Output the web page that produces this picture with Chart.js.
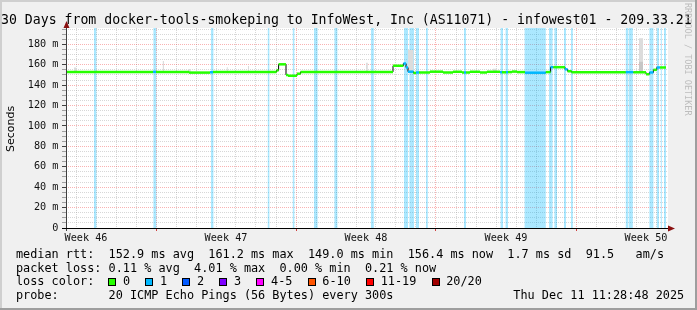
<!DOCTYPE html>
<html>
<head>
<meta charset="utf-8">
<script src="https://cdn.jsdelivr.net/npm/chart.js"></script>
<style>
html, body { margin: 0; padding: 0; background: #f0f0f0; }
</style>
</head>
<body>
<canvas id="canvas" width="697" height="310"></canvas>
<script>
// Заголовок и подписи
const titleText = '30 Days from docker-tools-smokeping to InfoWest, Inc (AS11071) - infowest01 - 209.33.21';
const unitText = 'Seconds';
const watermark = 'RRDTOOL / TOBI OETIKER';
const weekDays = [1, 8, 15, 22, 29];
const weekLabels = ['Week 46', 'Week 47', 'Week 48', 'Week 49', 'Week 50'];
const xMax = 30.1;
const yMax = 196;

// Медиана RTT (дни от начала, мс, число потерь на отрезке)
const medianDay = [0, 4.35, 4.50, 6.15, 7.20, 7.35, 10.53, 10.63, 11.00, 11.10, 11.55, 11.73,
    16.35, 16.87, 17.00, 17.10, 17.37, 17.50, 17.65, 18.20, 18.85, 19.35, 19.80, 19.90, 20.00,
    20.20, 20.70, 21.05, 21.70, 21.80, 22.00, 22.10, 22.30, 22.55, 22.95, 23.99,
    24.23, 24.37, 24.95, 25.08, 25.28, 27.99, 28.37, 29.00, 29.17, 29.37, 29.54, 29.70, 30.00];
const medianMs = [153.0, 153.0, 153.0, 152.3, 152.6, 153.0, 154.5, 160.4, 150.0, 149.2, 151.2, 153.0,
    159.0, 161.2, 157.3, 153.2, 152.0, 152.4, 152.4, 153.2, 152.4, 153.1, 152.4, 152.4, 152.4,
    153.1, 152.4, 153.1, 152.6, 152.6, 152.6, 152.8, 153.3, 152.8, 152.2, 152.8,
    157.6, 157.6, 155.5, 153.6, 152.7, 152.7, 152.6, 150.7, 152.4, 155.0, 157.3, 157.3, 157.3];
const medianLoss = [0, 1, 0, 0, 1, 0, 0, 0, 0, 0, 0, 0,
    0, 1, 1, 1, 0, 1, 0, 0, 0, 0, 0, 1, 0,
    0, 0, 0, 1, 0, 1, 0, 0, 0, 1, 0,
    1, 0, 1, 0, 0, 1, 0, 0, 1, 0, 1, 0, 0];

// Полосы потерь (начало и конец, дни)
const lossStart = [1.40, 4.37, 7.25, 10.09, 11.34, 12.40, 13.42, 15.25, 16.90, 17.17, 17.50, 18.00, 19.90,
    21.73, 21.98, 22.93, 24.15, 24.42, 24.90, 25.25, 27.99, 28.15, 29.17, 29.54, 29.74, 29.90];
const lossEnd = [1.52, 4.52, 7.37, 10.17, 11.42, 12.58, 13.57, 15.39, 17.10, 17.40, 17.65, 18.09, 20.00,
    21.85, 22.10, 23.99, 24.33, 24.55, 25.00, 25.34, 28.12, 28.34, 29.37, 29.65, 29.79, 30.00];

// "Дым" - разброс пингов
const smokeStart = [0.40, 4.84, 6.10, 8.04, 9.10, 15.00, 17.10, 21.35, 28.65];
const smokeEnd = [0.50, 4.90, 6.24, 8.09, 9.15, 15.09, 17.37, 21.55, 28.85];
const smokeTop = [157.4, 163.6, 155.8, 157.5, 158.8, 162.0, 174.4, 156.0, 185.9];
const coreStart = [28.65];
const coreEnd = [28.85];
const coreTop = [163.0];

// Легенда
const lossLabels = ['0', '1', '2', '3', '4-5', '6-10', '11-19', '20/20'];
const lossColors = ['#26ff00', '#00b8ff', '#0059ff', '#7e00ff', '#ff00ff', '#ff5500', '#ff0000', '#a10000'];
const statRtt = 'median rtt:  152.9 ms avg  161.2 ms max  149.0 ms min  156.4 ms now  1.7 ms sd  91.5   am/s';
const statLoss = 'packet loss: 0.11 % avg  4.01 % max  0.00 % min  0.21 % now';
const probeText = 'probe:       20 ICMP Echo Pings (56 Bytes) every 300s';
const dateText = 'Thu Dec 11 11:28:48 2025';

const MONO = '"DejaVu Sans Mono", monospace';
const minorGrid = 'rgba(140,140,140,0.35)';
const majorGrid = 'rgba(235,0,0,0.3)';

// Ступенчатые точки для полос потерь
const lossPts = [{x: 0, y: 0}];
lossStart.forEach((s, i) => {
    lossPts.push({x: s, y: yMax});
    lossPts.push({x: lossEnd[i], y: 0});
});
lossPts.push({x: xMax, y: 0});

function spikes(start, end, top) {
    const pts = [{x: 0, y: 152}];
    start.forEach((s, i) => {
        pts.push({x: s, y: top[i]});
        pts.push({x: end[i], y: 152});
    });
    pts.push({x: xMax, y: 152});
    return pts;
}

const stepPts = medianDay.map((d, i) => ({x: d, y: medianMs[i]}));

// Цветные горизонтальные отрезки медианы
const colPts = [];
const colLoss = [];
for (let i = 0; i < medianDay.length - 1; i++) {
    colPts.push({x: medianDay[i], y: medianMs[i]}, {x: medianDay[i + 1], y: medianMs[i]}, {x: medianDay[i + 1], y: null});
    colLoss.push(medianLoss[i], medianLoss[i], medianLoss[i]);
}

const xTicks = [];
for (let k = 1; k < 60; k++) xTicks.push({value: k * 0.5});
const yTicks = [];
for (let v = 0; v < yMax; v += 5) yTicks.push({value: v});

const decor = {
    id: 'decor',
    beforeDraw(chart) {
        const c = chart.ctx, a = chart.chartArea;
        c.save();
        c.fillStyle = '#f0f0f0';
        c.fillRect(0, 0, 697, 310);
        c.fillStyle = '#cfcfcf';
        c.fillRect(0, 0, 697, 2);
        c.fillRect(0, 0, 2, 310);
        c.fillStyle = '#9e9e9e';
        c.fillRect(0, 308, 697, 2);
        c.fillRect(695, 0, 2, 310);
        c.fillStyle = '#ffffff';
        c.fillRect(a.left, a.top, a.right - a.left, a.bottom - a.top);

        c.fillStyle = '#000';
        c.font = '13.2px ' + MONO;
        c.textAlign = 'left';
        c.textBaseline = 'alphabetic';
        c.fillText(titleText, 1, 24);

        c.save();
        c.translate(11, 129);
        c.rotate(-Math.PI / 2);
        c.textAlign = 'center';
        c.textBaseline = 'middle';
        c.font = '11px "DejaVu Sans", sans-serif';
        c.fillText(unitText, 0, 0);
        c.restore();

        c.save();
        c.translate(687, 3);
        c.rotate(Math.PI / 2);
        c.textAlign = 'left';
        c.textBaseline = 'middle';
        c.font = '8.5px ' + MONO;
        c.fillStyle = '#bdbdbd';
        c.fillText(watermark, 0, 0);
        c.restore();
        c.restore();
    },
    afterDatasetsDraw(chart) {
        const c = chart.ctx, a = chart.chartArea;
        c.save();
        // оси
        c.strokeStyle = '#404040';
        c.lineWidth = 1;
        c.beginPath();
        c.moveTo(a.left + 0.5, a.bottom + 3);
        c.lineTo(a.left + 0.5, a.top - 1);
        c.stroke();
        c.strokeStyle = '#000';
        c.beginPath();
        c.moveTo(a.left - 4, a.bottom + 0.5);
        c.lineTo(a.right, a.bottom + 0.5);
        c.stroke();
        // стрелки
        c.fillStyle = '#8a1010';
        c.beginPath();
        c.moveTo(a.left + 0.5, a.top - 7);
        c.lineTo(a.left - 2.5, a.top);
        c.lineTo(a.left + 3.5, a.top);
        c.closePath();
        c.fill();
        c.beginPath();
        c.moveTo(a.right + 7, a.bottom + 0.5);
        c.lineTo(a.right, a.bottom - 2.5);
        c.lineTo(a.right, a.bottom + 3.5);
        c.closePath();
        c.fill();
        c.restore();
    },
    afterDraw(chart) {
        const c = chart.ctx;
        const cw = 7.12;
        c.save();
        c.fillStyle = '#000';
        c.font = '11.83px ' + MONO;
        c.textAlign = 'left';
        c.textBaseline = 'middle';
        c.fillText(statRtt, 16, 255);
        c.fillText(statLoss, 16, 268.5);
        c.fillText('loss color:', 16, 282);
        let sx = 108.3;
        lossLabels.forEach((lab, i) => {
            c.fillStyle = '#000';
            c.fillRect(Math.round(sx), 278, 8, 8);
            c.fillStyle = lossColors[i];
            c.fillRect(Math.round(sx) + 1, 279, 6, 6);
            c.fillStyle = '#000';
            c.fillText(lab, sx + 14.7, 282);
            sx += 29.9 + cw * lab.length;
        });
        c.fillText(probeText, 16, 295.7);
        c.fillText(dateText, 513.3, 295.7);
        c.restore();
    }
};

const ctx = document.getElementById('canvas').getContext('2d');
new Chart(ctx, {
    type: 'line',
    data: {
        datasets: [{
            label: 'median',
            data: colPts,
            borderWidth: 2.5,
            borderCapStyle: 'butt',
            pointRadius: 0,
            order: 0,
            segment: {
                borderColor: s => lossColors[colLoss[s.p0DataIndex]]
            },
            borderColor: lossColors[0]
        }, {
            label: 'step',
            data: stepPts,
            stepped: true,
            borderColor: '#000000',
            borderWidth: 1,
            pointRadius: 0,
            order: 1
        }, {
            label: 'smoke core',
            data: spikes(coreStart, coreEnd, coreTop),
            stepped: true,
            borderWidth: 0,
            pointRadius: 0,
            fill: {value: 152},
            backgroundColor: '#c6c6c6',
            order: 2
        }, {
            label: 'smoke',
            data: spikes(smokeStart, smokeEnd, smokeTop),
            stepped: true,
            borderWidth: 0,
            pointRadius: 0,
            fill: {value: 152},
            backgroundColor: '#dcdcdc',
            order: 3
        }, {
            label: 'loss',
            data: lossPts,
            stepped: true,
            borderWidth: 0,
            pointRadius: 0,
            fill: 'origin',
            backgroundColor: 'rgba(0,184,255,0.33)',
            order: 4
        }]
    },
    options: {
        responsive: false,
        animation: false,
        devicePixelRatio: 1,
        events: [],
        layout: {padding: {left: 0, right: 29, top: 28, bottom: 66}},
        plugins: {
            legend: {display: false},
            tooltip: {enabled: false}
        },
        scales: {
            x: {
                type: 'linear',
                min: 0,
                max: xMax,
                afterBuildTicks: s => { s.ticks = xTicks.map(t => ({value: t.value})); },
                afterFit: s => { s.height = 16; },
                ticks: {
                    autoSkip: false,
                    maxRotation: 0,
                    minRotation: 0,
                    padding: 1,
                    color: '#111',
                    font: {family: MONO, size: 10.2},
                    callback: v => {
                        const i = weekDays.indexOf(v);
                        return i >= 0 ? weekLabels[i] : '';
                    }
                },
                grid: {
                    lineWidth: 1,
                    tickLength: 3,
                    color: c => {
                        const v = c.tick.value;
                        if (Number.isInteger(v)) return 'rgba(0,0,0,0)';
                        return (v - 4.5) % 7 === 0 ? majorGrid : minorGrid;
                    },
                    tickColor: c => ((c.tick.value - 4.5) % 7 === 0 ? '#d04040' : 'rgba(0,0,0,0)'),
                    borderDash: [1, 1]
                },
                border: {display: false, dash: [1, 1]}
            },
            y: {
                min: 0,
                max: yMax,
                afterBuildTicks: s => { s.ticks = yTicks.map(t => ({value: t.value})); },
                afterFit: s => { s.width = 66; },
                ticks: {
                    autoSkip: false,
                    padding: 3.5,
                    color: '#111',
                    font: {family: MONO, size: 10.2},
                    callback: v => (v % 20 === 0 ? (v === 0 ? '0' : v + ' m') : '')
                },
                grid: {
                    lineWidth: 1,
                    tickLength: 4,
                    color: c => {
                        const v = c.tick.value;
                        if (v === 0) return 'rgba(0,0,0,0)';
                        return v % 20 === 0 ? majorGrid : minorGrid;
                    },
                    tickColor: c => (c.tick.value % 20 === 0 ? '#404040' : 'rgba(64,64,64,0.45)'),
                    borderDash: [1, 1]
                },
                border: {display: false, dash: [1, 1]}
            }
        }
    },
    plugins: [decor]
});
</script>
</body>
</html>
